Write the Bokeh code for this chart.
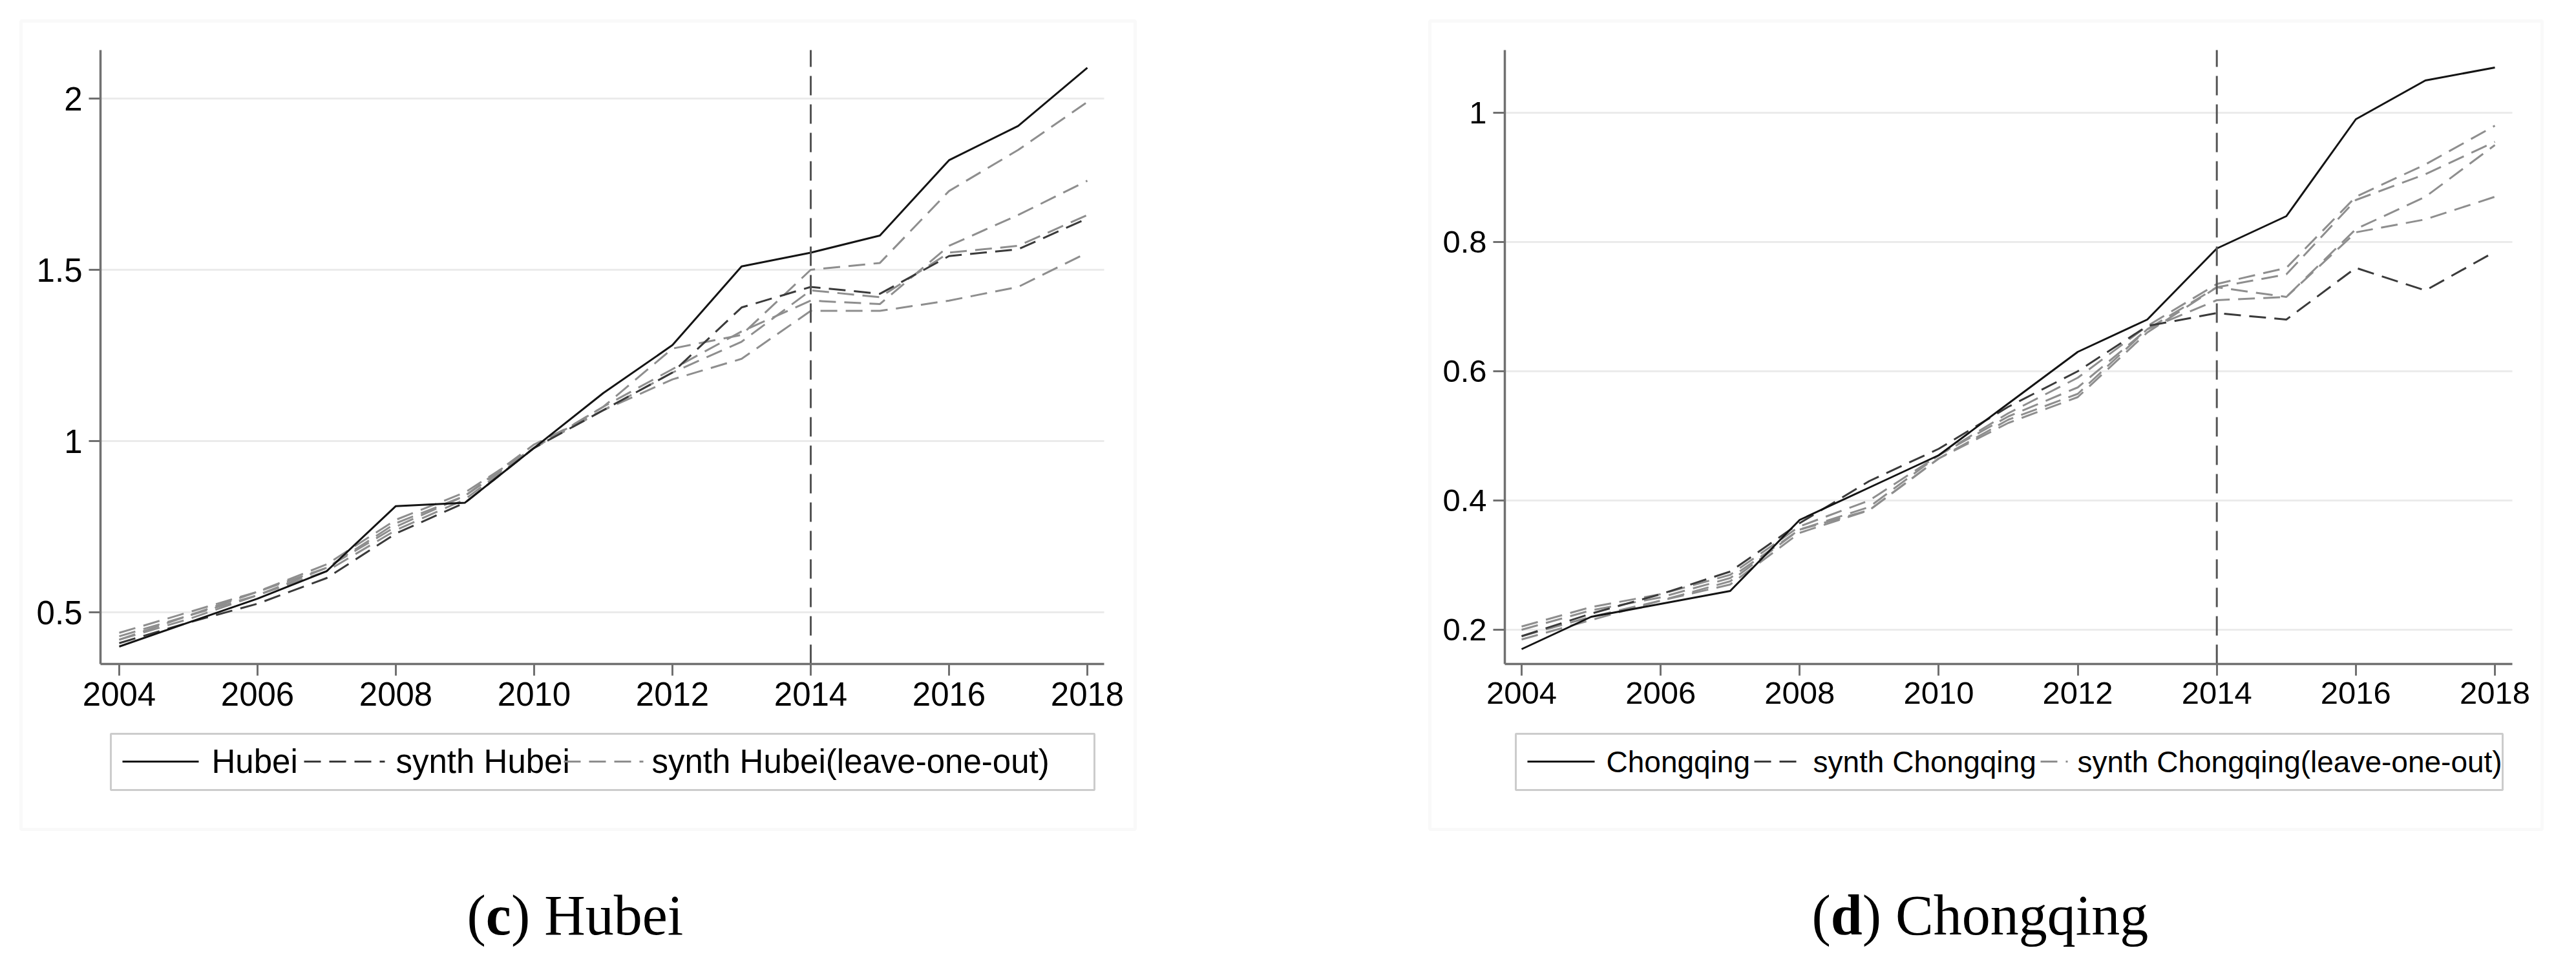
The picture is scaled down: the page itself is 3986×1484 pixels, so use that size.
from bokeh.plotting import figure
from bokeh.layouts import row
from bokeh.models import FixedTicker, Label, BoxAnnotation, Arrow, Range1d
from bokeh.embed import file_html
from bokeh.resources import INLINE

# ---------------- data ----------------
years = [2004, 2005, 2006, 2007, 2008, 2009, 2010, 2011, 2012, 2013, 2014, 2015, 2016, 2017, 2018]
x_ticks = [2004, 2006, 2008, 2010, 2012, 2014, 2016, 2018]
x_tick_labels = ["2004", "2006", "2008", "2010", "2012", "2014", "2016", "2018"]
treat_year = 2014

hubei = [0.40, 0.47, 0.54, 0.62, 0.81, 0.82, 0.98, 1.14, 1.28, 1.51, 1.55, 1.60, 1.82, 1.92, 2.09]
synth_hubei = [0.41, 0.47, 0.525, 0.60, 0.73, 0.82, 0.98, 1.09, 1.20, 1.39, 1.45, 1.43, 1.54, 1.56, 1.65]
loo_hubei_1 = [0.44, 0.50, 0.56, 0.64, 0.77, 0.85, 0.98, 1.10, 1.27, 1.31, 1.50, 1.52, 1.73, 1.85, 1.99]
loo_hubei_2 = [0.43, 0.49, 0.56, 0.63, 0.76, 0.84, 0.98, 1.10, 1.21, 1.32, 1.41, 1.40, 1.57, 1.66, 1.76]
loo_hubei_3 = [0.42, 0.49, 0.55, 0.63, 0.75, 0.84, 0.99, 1.09, 1.20, 1.29, 1.44, 1.42, 1.55, 1.57, 1.66]
loo_hubei_4 = [0.42, 0.48, 0.55, 0.62, 0.74, 0.83, 0.98, 1.09, 1.18, 1.24, 1.38, 1.38, 1.41, 1.45, 1.55]
hubei_y_ticks = [0.5, 1.0, 1.5, 2.0]
hubei_y_labels = ["0.5", "1", "1.5", "2"]

chongqing = [0.17, 0.22, 0.24, 0.26, 0.37, 0.42, 0.47, 0.55, 0.63, 0.68, 0.79, 0.84, 0.99, 1.05, 1.07]
synth_chongqing = [0.19, 0.225, 0.255, 0.29, 0.365, 0.43, 0.48, 0.545, 0.60, 0.67, 0.69, 0.68, 0.76, 0.725, 0.785]
loo_cq_1 = [0.205, 0.235, 0.255, 0.285, 0.36, 0.40, 0.47, 0.535, 0.59, 0.67, 0.735, 0.76, 0.87, 0.92, 0.98]
loo_cq_2 = [0.20, 0.23, 0.25, 0.28, 0.355, 0.39, 0.47, 0.53, 0.575, 0.665, 0.73, 0.75, 0.865, 0.905, 0.955]
loo_cq_3 = [0.19, 0.22, 0.245, 0.275, 0.355, 0.385, 0.465, 0.525, 0.565, 0.665, 0.71, 0.715, 0.82, 0.87, 0.95]
loo_cq_4 = [0.185, 0.215, 0.245, 0.27, 0.35, 0.385, 0.465, 0.52, 0.56, 0.66, 0.73, 0.715, 0.815, 0.835, 0.87]
cq_y_ticks = [0.2, 0.4, 0.6, 0.8, 1.0]
cq_y_labels = ["0.2", "0.4", "0.6", "0.8", "1"]

# ---------------- styles ----------------
FONT = "Liberation Sans"
SERIF = "Liberation Serif"
ACT_COLOR = "#141414"
SYN_COLOR = "#3a3a3a"
LOO_COLOR = "#8e8e8e"
AXIS_COLOR = "#707070"
DASH = "26 13"
LW = 3
FIG_H = 1468
PAGE_Y0 = 8
PLOT_TOP, PLOT_BOTTOM = 85, 1035   # plot area in page pixels
CAP_SIZE = 88


def make_panel(name, actual, synth, loos, yticks, ylabels,
               x_anchor, y_anchor, fig_w, page_x0, plot_lr,
               outer_lr, legend_lr, legend_samples, legend_label_x,
               tick_size, legend_size, caption_x, letter, letter_w):
    (xa0, ya0), (xa1, ya1) = x_anchor   # (page_x, year)
    (yb0, vb0), (yb1, vb1) = y_anchor   # (page_y, value)
    kx = (ya1 - ya0) / (xa1 - xa0)
    ky = (vb1 - vb0) / (yb1 - yb0)

    def dx(X):
        return ya0 + (X - xa0) * kx

    def dy(Y):
        return vb0 + (Y - yb0) * ky

    x_start, x_end = dx(page_x0), dx(page_x0 + fig_w)
    y_top, y_bot = dy(PAGE_Y0), dy(PAGE_Y0 + FIG_H)
    pl, pr = dx(plot_lr[0]), dx(plot_lr[1])
    pb, pt = dy(PLOT_BOTTOM), dy(PLOT_TOP)

    p = figure(width=fig_w, height=FIG_H, output_backend="svg", toolbar_location=None,
               x_range=Range1d(x_start, x_end), y_range=Range1d(y_bot, y_top),
               min_border_left=0, min_border_right=0, min_border_top=0, min_border_bottom=0)
    p.outline_line_color = None
    p.background_fill_color = "white"
    p.border_fill_color = "white"
    p.xgrid.visible = False
    p.ygrid.visible = False

    p.xaxis.ticker = FixedTicker(ticks=x_ticks)
    p.xaxis.major_label_overrides = {t: l for t, l in zip(x_ticks, x_tick_labels)}
    p.xaxis.fixed_location = pb
    p.xaxis.bounds = (pl, pr)
    p.yaxis.ticker = FixedTicker(ticks=yticks)
    p.yaxis.major_label_overrides = {t: l for t, l in zip(yticks, ylabels)}
    p.yaxis.fixed_location = pl
    p.yaxis.bounds = (pb, pt)
    for ax in (p.xaxis, p.yaxis):
        ax.axis_line_color = AXIS_COLOR
        ax.axis_line_width = 3.5
        ax.major_tick_line_color = AXIS_COLOR
        ax.major_tick_line_width = 3
        ax.major_tick_out = 18
        ax.major_tick_in = 0
        ax.minor_tick_line_color = None
        ax.major_label_text_font = FONT
        ax.major_label_text_font_size = tick_size
        ax.major_label_text_color = "black"
        ax.major_label_standoff = 10

    # horizontal grid lines at the y ticks, across the plot area
    p.segment(x0=[pl] * len(yticks), x1=[pr] * len(yticks), y0=yticks, y1=yticks,
              line_color="#ebebeb", line_width=3)

    for s in loos:
        p.line(years, s, line_color=LOO_COLOR, line_width=LW, line_dash=DASH)
    p.line(years, synth, line_color=SYN_COLOR, line_width=LW, line_dash=DASH)
    p.line(years, actual, line_color=ACT_COLOR, line_width=LW)
    p.segment(x0=[treat_year], x1=[treat_year], y0=[pb], y1=[pt],
              line_color="#555555", line_width=3, line_dash="30 14")

    # screen coordinates (frame == whole canvas, y up)
    def sx(X):
        return X - page_x0

    def sy(Y):
        return PAGE_Y0 + FIG_H - Y

    def box(l, r, t, b, color, w):
        p.add_layout(BoxAnnotation(left=sx(l), right=sx(r), top=sy(t), bottom=sy(b),
                                   left_units="screen", right_units="screen",
                                   top_units="screen", bottom_units="screen",
                                   fill_color=None, line_color=color, line_width=w))

    box(outer_lr[0], outer_lr[1], 40, 1291, "#ececec", 5)
    box(legend_lr[0], legend_lr[1], 1143, 1230, "#555555", 3)

    ly = 1186
    styles = [(ACT_COLOR, "solid"), (SYN_COLOR, DASH), (LOO_COLOR, DASH)]
    texts = [name, "synth " + name, "synth " + name + "(leave-one-out)"]
    for (a, b), (c, d), tx, lx in zip(legend_samples, styles, texts, legend_label_x):
        p.add_layout(Arrow(end=None, x_start=sx(a), y_start=sy(ly), x_end=sx(b), y_end=sy(ly),
                           start_units="screen", end_units="screen",
                           line_color=c, line_width=LW, line_dash=d))
        p.add_layout(Label(x=sx(lx), y=sy(ly), x_units="screen", y_units="screen", text=tx,
                           text_font=FONT, text_font_size=legend_size, text_color="black",
                           text_baseline="middle", text_align="left"))

    # caption "(c) Hubei" with a bold letter
    base = sy(1424)
    paren_w = 0.333 * CAP_SIZE
    space_w = 0.25 * CAP_SIZE
    x1 = caption_x + paren_w
    x2 = x1 + letter_w * CAP_SIZE
    x3 = x2 + paren_w + space_w
    parts = [("(", caption_x, "normal"), (letter, x1, "bold"),
             (")", x2, "normal"), (name, x3, "normal")]
    for t, xx, fs in parts:
        p.add_layout(Label(x=sx(xx), y=base, x_units="screen", y_units="screen", text=t,
                           text_font=SERIF, text_font_size=f"{CAP_SIZE}px", text_font_style=fs,
                           text_color="black", text_baseline="alphabetic", text_align="left"))
    return p


p1 = make_panel("Hubei", hubei, synth_hubei,
                [loo_hubei_1, loo_hubei_2, loo_hubei_3, loo_hubei_4],
                hubei_y_ticks, hubei_y_labels,
                ((192, 2004), (1690, 2018)), ((955, 0.5), (160, 2.0)),
                1985, 8, (163, 1716),
                (40, 1764), (179, 1701),
                [(197, 315), (478, 603), (880, 1003)], [335, 620, 1016],
                "51px", "51px", 730, "c", 0.444)

p2 = make_panel("Chongqing", chongqing, synth_chongqing,
                [loo_cq_1, loo_cq_2, loo_cq_3, loo_cq_4],
                cq_y_ticks, cq_y_labels,
                ((2362, 2004), (3868, 2018)), ((982, 0.2), (182, 1.0)),
                1985, 1993, (2336, 3895),
                (2220, 3941), (2353, 3880),
                [(2371, 2475), (2722, 2800), (3165, 3207)], [2493, 2813, 3222],
                "49px", "46px", 2811, "d", 0.556)

layout = row(p1, p2)
open("out.html", "w").write(file_html(layout, INLINE))
